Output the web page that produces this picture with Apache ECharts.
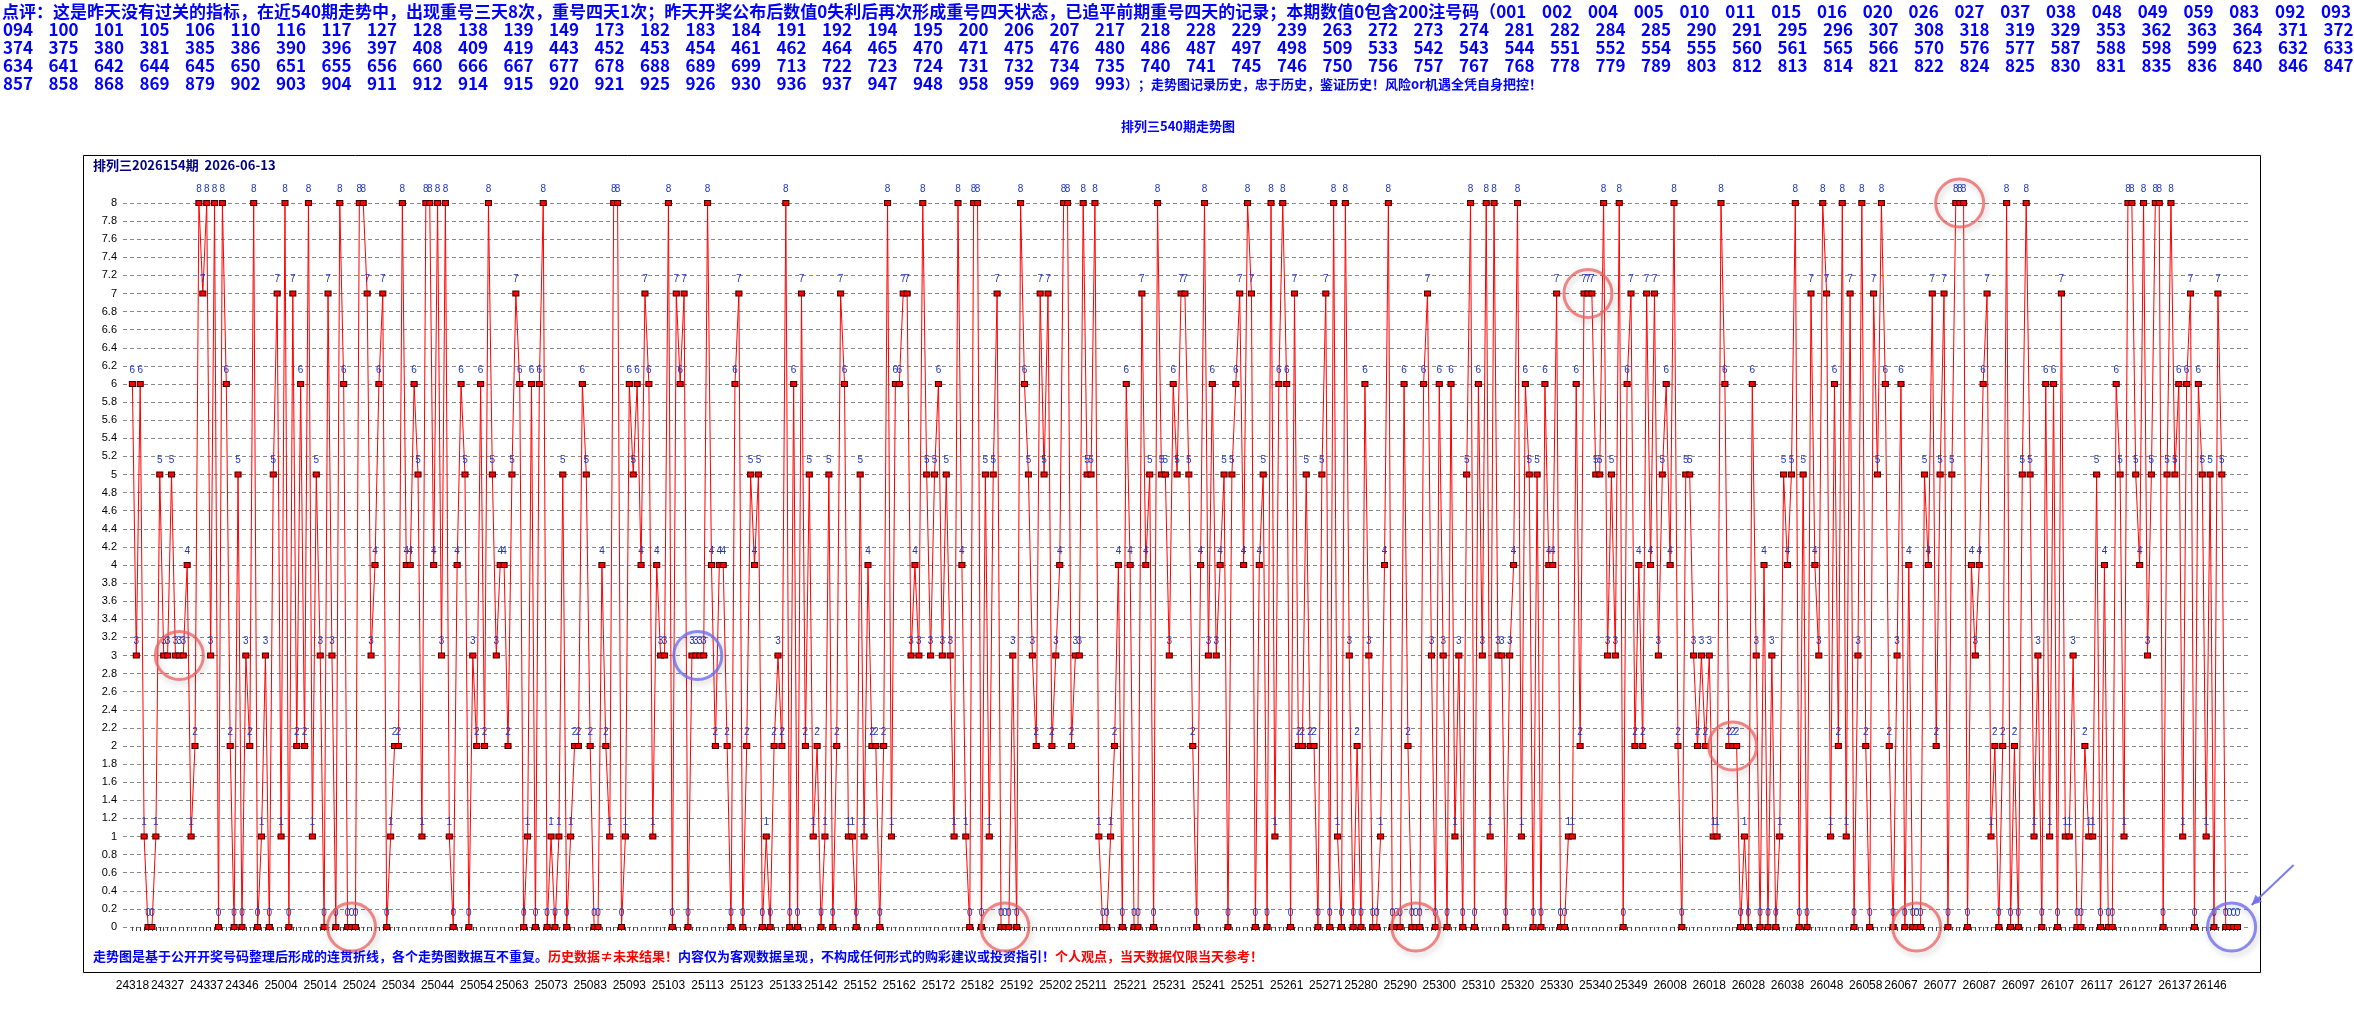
<!DOCTYPE html>
<html>
<head>
<meta charset="utf-8">
<title>排列三540期走势图</title>
<script src="https://cdn.jsdelivr.net/npm/echarts@6/dist/echarts.min.js"></script>
<style>
  html, body { margin: 0; padding: 0; background: #fff; }
  #chart { width: 2354px; height: 1019px; }
</style>
</head>
<body>
<div id="chart"></div>
<script>
// periods on the x axis: 24318-24352, 25001-25351, 26001-26153
const periodRanges = [
  ['24', 318, 352],
  ['25', 1, 351],
  ['26', 1, 153]
]

const values2024 = [
  6, 3, 6, 1, 0, 0, 1, 5, 3, 3, 5, 3, 3, 3, 4, 1, 2, 8, 7, 8,
  3, 8, 0, 8, 6, 2, 0, 5, 0, 3, 2, 8, 0, 1, 3
]
const values2025 = [
  0, 5, 7, 1, 8, 0, 7, 2, 6, 2, 8, 1, 5, 3, 0, 7, 3, 0, 8, 6,
  0, 0, 0, 8, 8, 7, 3, 4, 6, 7, 0, 1, 2, 2, 8, 4, 4, 6, 5, 1,
  8, 8, 4, 8, 3, 8, 1, 0, 4, 6, 5, 0, 3, 2, 6, 2, 8, 5, 3, 4,
  4, 2, 5, 7, 6, 0, 1, 6, 0, 6, 8, 0, 1, 0, 1, 5, 0, 1, 2, 2,
  6, 5, 2, 0, 0, 4, 2, 1, 8, 8, 0, 1, 6, 5, 6, 4, 7, 6, 1, 4,
  3, 3, 8, 0, 7, 6, 7, 0, 3, 3, 3, 3, 8, 4, 2, 4, 4, 2, 0, 6,
  7, 0, 2, 5, 4, 5, 0, 1, 0, 2, 3, 2, 8, 0, 6, 0, 7, 2, 5, 1,
  2, 0, 1, 5, 0, 2, 7, 6, 1, 1, 0, 5, 1, 4, 2, 2, 0, 2, 8, 1,
  6, 6, 7, 7, 3, 4, 3, 8, 5, 3, 5, 6, 3, 5, 3, 1, 8, 4, 1, 0,
  8, 8, 0, 5, 1, 5, 7, 0, 0, 0, 3, 0, 8, 6, 5, 3, 2, 7, 5, 7,
  2, 3, 4, 8, 8, 2, 3, 3, 8, 5, 5, 8, 1, 0, 0, 1, 2, 4, 0, 6,
  4, 0, 0, 7, 4, 5, 0, 8, 5, 5, 3, 6, 5, 7, 7, 5, 2, 0, 4, 8,
  3, 6, 3, 4, 5, 0, 5, 6, 7, 4, 8, 7, 0, 4, 5, 0, 8, 1, 6, 8,
  6, 0, 7, 2, 2, 5, 2, 2, 0, 5, 7, 0, 8, 1, 0, 8, 3, 0, 2, 0,
  6, 3, 0, 0, 1, 4, 8, 0, 0, 0, 6, 2, 0, 0, 0, 6, 7, 3, 0, 6,
  3, 0, 6, 1, 3, 0, 5, 8, 0, 6, 3, 8, 1, 8, 3, 3, 0, 3, 4, 8,
  1, 6, 5, 0, 5, 0, 6, 4, 4, 7, 0, 0, 1, 1, 6, 2, 7, 7, 7, 5,
  5, 8, 3, 5, 3, 8, 0, 6, 7, 2, 4
]
const values2026 = [
  2, 7, 4, 7, 3, 5, 6, 4, 8, 2, 0, 5, 5, 3, 2, 3, 2, 3, 1, 1,
  8, 6, 2, 2, 2, 0, 1, 0, 6, 3, 0, 4, 0, 3, 0, 1, 5, 4, 5, 8,
  0, 5, 0, 7, 4, 3, 8, 7, 1, 6, 2, 8, 1, 7, 0, 3, 8, 2, 0, 7,
  5, 8, 6, 2, 0, 3, 6, 0, 4, 0, 0, 0, 5, 4, 7, 2, 5, 7, 0, 5,
  8, 8, 8, 0, 4, 3, 4, 6, 7, 1, 2, 0, 2, 8, 0, 2, 0, 5, 8, 5,
  1, 3, 0, 6, 1, 6, 0, 7, 1, 1, 3, 0, 0, 2, 1, 1, 5, 0, 4, 0,
  0, 6, 5, 1, 8, 8, 5, 4, 8, 3, 5, 8, 8, 0, 5, 8, 5, 6, 1, 6,
  7, 0, 6, 5, 1, 5, 0, 7, 5, 0, 0, 0, 0
]

const tickLabels = [
  '24318', '24327', '24337', '24346', '25004', '25014', '25024', '25034', '25044', '25054',
  '25063', '25073', '25083', '25093', '25103', '25113', '25123', '25133', '25142', '25152',
  '25162', '25172', '25182', '25192', '25202', '25211', '25221', '25231', '25241', '25251',
  '25261', '25271', '25280', '25290', '25300', '25310', '25320', '25330', '25340', '25349',
  '26008', '26018', '26028', '26038', '26048', '26058', '26067', '26077', '26087', '26097',
  '26107', '26117', '26127', '26137', '26146'
]

// repeated runs that are circled: first period, last period, colour
const circledRuns = [
  ['24329', '24331', 'red'],
  ['25021', '25023', 'red'],
  ['25109', '25112', 'blue'],
  ['25188', '25190', 'red'],
  ['25293', '25295', 'red'],
  ['25337', '25339', 'red'],
  ['26023', '26025', 'red'],
  ['26070', '26072', 'red'],
  ['26081', '26083', 'red'],
  ['26150', '26153', 'blue']
]

const headerLead = '点评：这是昨天没有过关的指标，在近540期走势中，出现重号三天8次，重号四天1次；昨天开奖公布后数值0失利后再次形成重号四天状态，已追平前期重号四天的记录；本期数值0包含200注号码（'
const headerTail = '）；走势图记录历史，忠于历史，鉴证历史！风险or机遇全凭自身把控！'
const zeroCodes = [
  '001', '002', '004', '005', '010', '011', '015', '016', '020', '026', '027', '037', '038', '048', '049', '059', '083', '092', '093',
  '094', '100', '101', '105', '106', '110', '116', '117', '127', '128', '138', '139', '149', '173', '182', '183', '184', '191', '192', '194',
  '195', '200', '206', '207', '217', '218', '228', '229', '239', '263', '272', '273', '274', '281', '282', '284', '285', '290', '291', '295',
  '296', '307', '308', '318', '319', '329', '353', '362', '363', '364', '371', '372',
  '374', '375', '380', '381', '385', '386', '390', '396', '397', '408', '409', '419', '443', '452', '453', '454', '461', '462', '464', '465',
  '470', '471', '475', '476', '480', '486', '487', '497', '498', '509', '533', '542', '543', '544', '551', '552', '554', '555', '560', '561',
  '565', '566', '570', '576', '577', '587', '588', '598', '599', '623', '632', '633',
  '634', '641', '642', '644', '645', '650', '651', '655', '656', '660', '666', '667', '677', '678', '688', '689', '699', '713', '722', '723',
  '724', '731', '732', '734', '735', '740', '741', '745', '746', '750', '756', '757', '767', '768', '778', '779', '789', '803', '812', '813',
  '814', '821', '822', '824', '825', '830', '831', '835', '836', '840', '846', '847',
  '857', '858', '868', '869', '879', '902', '903', '904', '911', '912', '914', '915', '920', '921', '925', '926', '930', '936', '937', '947',
  '948', '958', '959', '969', '993'
]
const headerLineSizes = [19, 52, 52, 52, 25]

const chartTitle = '排列三540期走势图'
const subTitle = '排列三2026154期  2026-06-13'
const footerParts = [
  ['b', '走势图是基于公开开奖号码整理后形成的连贯折线，各个走势图数据互不重复。'],
  ['r', '历史数据≠未来结果！'],
  ['b', '内容仅为客观数据呈现，不构成任何形式的购彩建议或投资指引！'],
  ['r', '个人观点，当天数据仅限当天参考！']
]

const categories = []
periodRanges.forEach(([yy, from, to]) => {
  for (let p = from; p <= to; p++) categories.push(yy + String(p).padStart(3, '0'))
})
const values = [...values2024, ...values2025, ...values2026]
const seriesData = values.map((v, i) => [i, v])
const tickIndex = tickLabels.map((p) => categories.indexOf(p))
const allIndex = categories.map((c, i) => i)

const circleColors = {
  red: 'rgba(236, 96, 96, 0.75)',
  blue: 'rgba(110, 110, 236, 0.8)'
}
const circleData = circledRuns.map(([a, b, c]) => {
  const i0 = categories.indexOf(a)
  const i1 = categories.indexOf(b)
  return {
    coord: [(i0 + i1) / 2, values[i0]],
    itemStyle: { borderColor: circleColors[c] }
  }
})

// header block, justified like the original text paragraph
const measureCtx = document.createElement('canvas').getContext('2d')
const headerFont = 'bold 17px "Noto Sans CJK SC"'
const tailFont = 'bold 13px "Noto Sans CJK SC"'
const textWidth = (t) => {
  measureCtx.font = headerFont
  return measureCtx.measureText(t).width
}
const headerGraphics = []
const pushHeaderText = (text, x, y, font) => {
  headerGraphics.push({
    type: 'text',
    x: x,
    y: y,
    silent: true,
    style: { text: text, font: font || headerFont, fill: '#0000ff', verticalAlign: 'middle' }
  })
}
let codeStart = 0
headerLineSizes.forEach((n, line) => {
  const codes = zeroCodes.slice(codeStart, codeStart + n)
  codeStart += n
  const y = 12 + line * 18
  let x0 = 3
  let step = 45.5
  if (line == 0) {
    pushHeaderText(headerLead, 2, y)
    x0 = 2 + textWidth(headerLead)
    step = (2351 - textWidth('093') - x0) / (n - 1)
  }
  codes.forEach((c, k) => pushHeaderText(c, x0 + k * step, y))
  if (line == headerLineSizes.length - 1) {
    pushHeaderText(headerTail, x0 + (n - 1) * step + textWidth(codes[n - 1]), y, tailFont)
  }
})

const option = {
  animation: false,
  backgroundColor: '#ffffff',
  title: {
    text: chartTitle,
    left: 1173,
    top: 115,
    textAlign: 'center',
    textStyle: { color: '#0000ff', fontSize: 13, fontWeight: 'bold', fontFamily: 'Noto Sans CJK SC' }
  },
  grid: {
    left: 123,
    right: 104,
    top: 203,
    bottom: 92
  },
  xAxis: {
    type: 'value',
    min: -2.4,
    max: 541.2,
    offset: 45,
    axisLine: { show: false },
    splitLine: { show: false },
    axisTick: {
      show: true,
      customValues: allIndex,
      length: 4,
      lineStyle: { color: '#444' }
    },
    axisLabel: {
      customValues: tickIndex,
      formatter: (v) => categories[Math.round(v)],
      color: '#000',
      fontSize: 12,
      margin: 8,
      fontFamily: 'Liberation Sans'
    }
  },
  yAxis: {
    type: 'value',
    min: 0,
    max: 8,
    interval: 0.2,
    axisLine: { show: false },
    axisTick: { show: false },
    axisLabel: { color: '#000', fontSize: 11, margin: 6, fontFamily: 'Liberation Sans' },
    splitLine: { lineStyle: { color: '#888', type: [4, 3], width: 1 } }
  },
  series: [
    {
      type: 'line',
      data: seriesData,
      symbol: 'rect',
      symbolSize: [6, 5],
      itemStyle: { color: '#ff0000', borderColor: '#400000', borderWidth: 1 },
      lineStyle: { color: '#ff0000', width: 1 },
      label: {
        show: true,
        position: 'top',
        distance: 6,
        fontSize: 10,
        color: '#2038b8',
        fontFamily: 'Liberation Sans',
        formatter: (p) => p.value[1]
      },
      markPoint: {
        symbol: 'circle',
        symbolSize: 48,
        silent: true,
        label: { show: false },
        itemStyle: {
          color: 'rgba(0,0,0,0)',
          borderWidth: 3,
          shadowBlur: 6,
          shadowColor: 'rgba(0,0,0,0.25)',
          shadowOffsetX: 2,
          shadowOffsetY: 3
        },
        data: circleData
      }
    }
  ],
  graphic: [
    ...headerGraphics,
    {
      type: 'rect',
      silent: true,
      shape: { x: 83.5, y: 155.5, width: 2177, height: 817 },
      style: { fill: 'none', stroke: '#000', lineWidth: 1 }
    },
    {
      type: 'text',
      x: 93,
      y: 165,
      silent: true,
      style: { text: subTitle, font: 'bold 13px "Noto Sans CJK SC"', fill: '#000080', verticalAlign: 'middle' }
    },
    {
      type: 'text',
      x: 93,
      y: 956,
      silent: true,
      style: {
        text: footerParts.map(([k, t]) => '{' + k + '|' + t + '}').join(''),
        verticalAlign: 'middle',
        rich: {
          b: { fill: '#0000ff', font: 'bold 13px "Noto Sans CJK SC"' },
          r: { fill: '#ff0000', font: 'bold 13px "Noto Sans CJK SC"' }
        }
      }
    }
  ]
}

const chart = echarts.init(document.getElementById('chart'))
chart.setOption(option)

// arrow pointing at the current run
const last = circleData[circleData.length - 1].coord
const [cx, cy] = chart.convertToPixel({ seriesIndex: 0 }, last)
const tail = [cx + 62, cy - 62]
const head = [cx + 20, cy - 22]
const ang = Math.atan2(head[1] - tail[1], head[0] - tail[0])
const hl = 11
chart.setOption({
  graphic: [
    ...option.graphic,
    {
      type: 'line',
      silent: true,
      shape: { x1: tail[0], y1: tail[1], x2: head[0], y2: head[1] },
      style: { stroke: 'rgba(110,110,236,0.9)', lineWidth: 2 }
    },
    {
      type: 'polygon',
      silent: true,
      shape: {
        points: [
          head,
          [head[0] - hl * Math.cos(ang - 0.45), head[1] - hl * Math.sin(ang - 0.45)],
          [head[0] - hl * Math.cos(ang + 0.45), head[1] - hl * Math.sin(ang + 0.45)]
        ]
      },
      style: { fill: 'rgba(110,110,236,0.9)' }
    }
  ]
})
</script>
</body>
</html>
